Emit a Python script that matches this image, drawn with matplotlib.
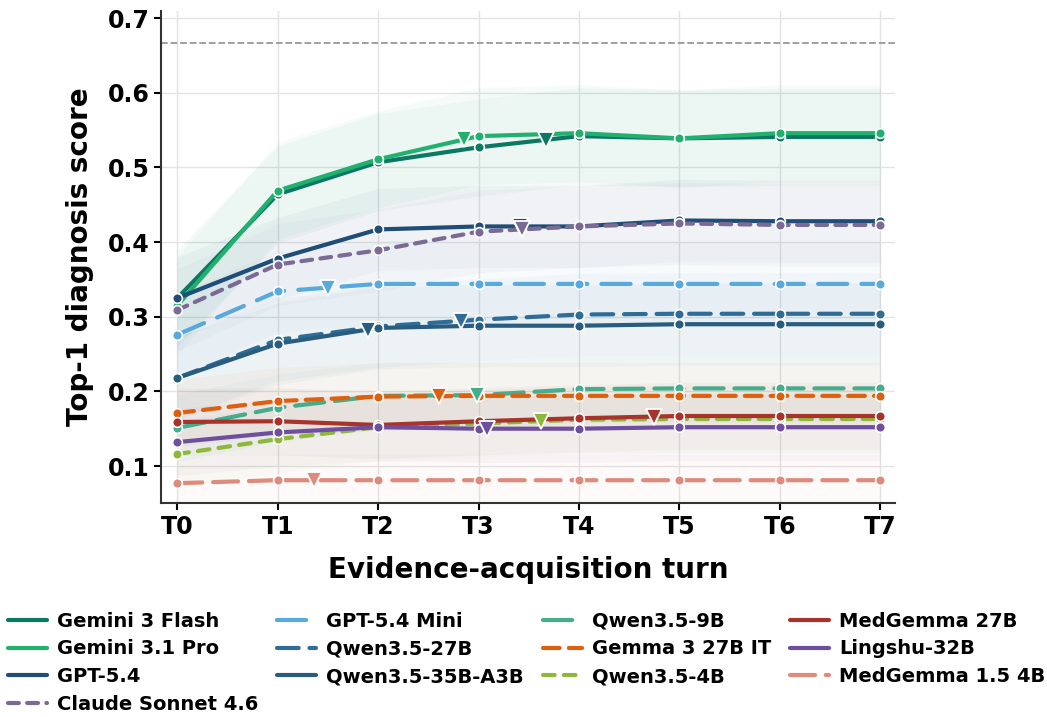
import numpy as np
import matplotlib
matplotlib.use("Agg")
import matplotlib.pyplot as plt

turns = ["T0", "T1", "T2", "T3", "T4", "T5", "T6", "T7"]

models = ["Gemini 3 Flash", "Gemini 3.1 Pro", "GPT-5.4", "Claude Sonnet 4.6",
          "GPT-5.4 Mini", "Qwen3.5-27B", "Qwen3.5-35B-A3B",
          "Qwen3.5-9B", "Gemma 3 27B IT", "Qwen3.5-4B",
          "MedGemma 27B", "Lingshu-32B", "MedGemma 1.5 4B"]

scores = {
    "Gemini 3 Flash":    [0.325, 0.464, 0.507, 0.527, 0.542, 0.539, 0.541, 0.541],
    "Gemini 3.1 Pro":    [0.315, 0.469, 0.511, 0.542, 0.546, 0.539, 0.546, 0.546],
    "GPT-5.4":           [0.325, 0.378, 0.417, 0.421, 0.421, 0.429, 0.428, 0.428],
    "Claude Sonnet 4.6": [0.309, 0.370, 0.389, 0.414, 0.421, 0.425, 0.423, 0.423],
    "GPT-5.4 Mini":      [0.276, 0.334, 0.344, 0.344, 0.344, 0.344, 0.344, 0.344],
    "Qwen3.5-27B":       [0.218, 0.269, 0.287, 0.296, 0.303, 0.304, 0.304, 0.304],
    "Qwen3.5-35B-A3B":   [0.218, 0.264, 0.285, 0.288, 0.288, 0.290, 0.290, 0.290],
    "Qwen3.5-9B":        [0.151, 0.178, 0.194, 0.195, 0.203, 0.204, 0.204, 0.204],
    "Gemma 3 27B IT":    [0.171, 0.187, 0.193, 0.194, 0.194, 0.194, 0.194, 0.194],
    "Qwen3.5-4B":        [0.116, 0.136, 0.152, 0.157, 0.162, 0.163, 0.163, 0.163],
    "MedGemma 27B":      [0.159, 0.160, 0.155, 0.160, 0.164, 0.167, 0.167, 0.167],
    "Lingshu-32B":       [0.132, 0.145, 0.152, 0.150, 0.150, 0.152, 0.152, 0.152],
    "MedGemma 1.5 4B":   [0.077, 0.081, 0.081, 0.081, 0.081, 0.081, 0.081, 0.081],
}

# mean stopping turn (triangle marker)
stop_turn = {
    "Gemini 3 Flash": 3.67, "Gemini 3.1 Pro": 2.86, "GPT-5.4": 3.41,
    "Claude Sonnet 4.6": 3.43, "GPT-5.4 Mini": 1.50, "Qwen3.5-27B": 2.83,
    "Qwen3.5-35B-A3B": 1.90, "Qwen3.5-9B": 2.98, "Gemma 3 27B IT": 2.61,
    "Qwen3.5-4B": 3.62, "MedGemma 27B": 4.75, "Lingshu-32B": 3.08,
    "MedGemma 1.5 4B": 1.36,
}

# confidence band half-width
band = {
    "Gemini 3 Flash": 0.065, "Gemini 3.1 Pro": 0.065, "GPT-5.4": 0.055,
    "Claude Sonnet 4.6": 0.055, "GPT-5.4 Mini": 0.055, "Qwen3.5-27B": 0.055,
    "Qwen3.5-35B-A3B": 0.055, "Qwen3.5-9B": 0.045, "Gemma 3 27B IT": 0.045,
    "Qwen3.5-4B": 0.045, "MedGemma 27B": 0.045, "Lingshu-32B": 0.045,
    "MedGemma 1.5 4B": 0.035,
}

upper_bound = 0.667

colors = {
    "Gemini 3 Flash": "#0b7864", "Gemini 3.1 Pro": "#22b06e", "GPT-5.4": "#1f4d78",
    "Claude Sonnet 4.6": "#7b6b94", "GPT-5.4 Mini": "#58a9dc", "Qwen3.5-27B": "#2f6d98",
    "Qwen3.5-35B-A3B": "#285d80", "Qwen3.5-9B": "#45ad8b", "Gemma 3 27B IT": "#dd600f",
    "Qwen3.5-4B": "#8db83a", "MedGemma 27B": "#a8332b", "Lingshu-32B": "#6d4f9e",
    "MedGemma 1.5 4B": "#de8b7b",
}
dashes = {
    "Gemini 3 Flash": None, "Gemini 3.1 Pro": None, "GPT-5.4": None,
    "Claude Sonnet 4.6": (2.6, 2.0), "GPT-5.4 Mini": (7.0, 3.4), "Qwen3.5-27B": (5.2, 2.6),
    "Qwen3.5-35B-A3B": None, "Qwen3.5-9B": (7.0, 2.6), "Gemma 3 27B IT": (4.0, 2.2),
    "Qwen3.5-4B": (2.8, 2.2), "MedGemma 27B": None, "Lingshu-32B": None,
    "MedGemma 1.5 4B": (6.0, 2.6),
}

x = np.arange(len(turns))

fig = plt.figure(figsize=(10.47, 7.17), dpi=100)
ax = fig.add_axes([0.154, 0.298, 0.701, 0.687])

for m in models:
    y = np.array(scores[m])
    ax.fill_between(x, y - band[m], y + band[m], color=colors[m], alpha=0.04,
                    linewidth=0, zorder=1)

for i, m in enumerate(models):
    y = np.array(scores[m])
    kw = dict(color=colors[m], lw=3.0, marker="o", ms=7, mec="white", mew=1.2,
              label=m, zorder=3 + i * 0.01, solid_capstyle="round", dash_capstyle="round")
    if dashes[m] is not None:
        kw["dashes"] = dashes[m]
    ax.plot(x, y, **kw)
    st = stop_turn[m]
    ax.plot([st], [np.interp(st, x, y)], marker="v", ms=11, color=colors[m],
            mec="white", mew=1.3, ls="none", zorder=4)

ax.axhline(upper_bound, color="#999999", ls="--", lw=1.3, zorder=2)

ax.set_xlim(-0.16, 7.15)
ax.set_ylim(0.05, 0.71)
ax.set_xticks(x)
ax.set_xticklabels(turns)
ax.set_yticks([0.1, 0.2, 0.3, 0.4, 0.5, 0.6, 0.7])
ax.tick_params(labelsize=17, width=1.5, length=5)
for lbl in ax.get_xticklabels() + ax.get_yticklabels():
    lbl.set_fontweight("bold")
ax.grid(True, color="#e3e3e3", lw=1.0, zorder=0)
ax.set_axisbelow(True)
for s in ["top", "right"]:
    ax.spines[s].set_visible(False)
for s in ["left", "bottom"]:
    ax.spines[s].set_linewidth(1.5)
    ax.spines[s].set_color("#333333")

ax.set_xlabel("Evidence-acquisition turn", fontsize=20, fontweight="bold", labelpad=12)
ax.set_ylabel("Top-1 diagnosis score", fontsize=20, fontweight="bold", labelpad=10)

handles, labels = ax.get_legend_handles_labels()
fig.legend(handles, labels, loc="lower center", ncol=4, bbox_to_anchor=(0.503, -0.02),
           frameon=False, prop={"weight": "bold", "size": 14}, handlelength=2.0,
           columnspacing=1.0, labelspacing=0.45, handletextpad=0.5)
# legend handles without markers
for h in fig.legends[0].legend_handles:
    h.set_marker("")

fig.savefig("out.png", dpi=100)
